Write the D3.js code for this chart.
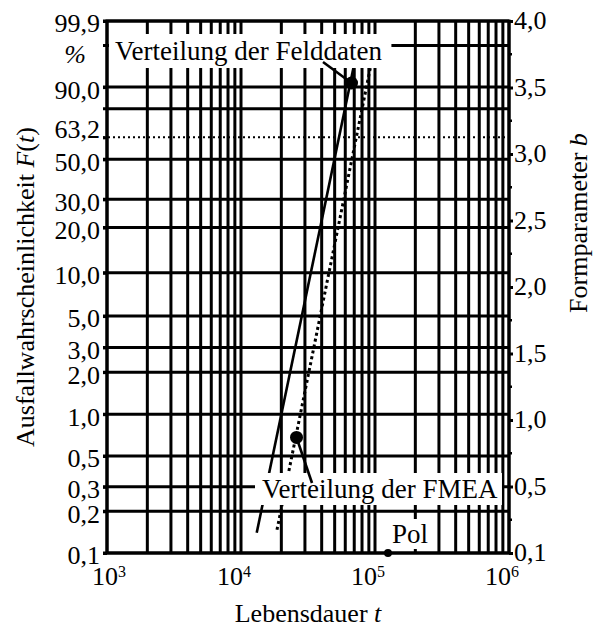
<!DOCTYPE html>
<html>
<head>
<meta charset="utf-8">
<script src="https://cdn.jsdelivr.net/npm/d3@7"></script>
<style>
  body { margin: 0; background: #fff; }
  svg text { font-family: "Times New Roman", "Liberation Serif", Tinos, "DejaVu Serif", serif !important; fill: #000; }
</style>
</head>
<body>
<div id="chart"></div>
<script>
// Weibull-Papier: Ausfallwahrscheinlichkeit ueber Lebensdauer
var percentGrid = [0.1, 0.2, 0.3, 0.5, 1, 2, 3, 5, 10, 20, 30, 50, 80, 90, 99, 99.9];
var percentLabels = [0.1, 0.2, 0.3, 0.5, 1, 2, 3, 5, 10, 20, 30, 50, 63.2, 90, 99.9];
var decades = [1e3, 1e4, 1e5, 1e6];
var bMajor = [0, 0.5, 1, 1.5, 2, 2.5, 3, 3.5, 4];
var bMajorLabels = ["0,1", "0,5", "1,0", "1,5", "2,0", "2,5", "3,0", "3,5", "4,0"];
var bMinor = [0.25, 0.75, 1.25, 1.75, 2.25, 2.75, 3.25, 3.75];

// Geraden [t, F%]
var felddaten = [[13100, 0.14], [74800, 99]];
var fmea = [[18560, 0.147], [99800, 99]];
var felddatenMarker = [66800, 91.5];
var fmeaMarker = [25960, 0.68];
var pol = [125000, 0.1];

var options = {
    outerWidth: 596, outerHeight: 627,
    margin: {left: 107, top: 21, right: 87, bottom: 74}
};
var width = options.outerWidth - options.margin.left - options.margin.right;
var height = options.outerHeight - options.margin.top - options.margin.bottom;
var serif = '"Times New Roman", "Liberation Serif", Tinos, "DejaVu Serif", serif';

var svg = d3.select("#chart")
    .append("svg")
    .attr("width", options.outerWidth)
    .attr("height", options.outerHeight)
    .attr("font-family", serif);

var g = svg.append("g")
    .attr("transform", "translate(" + options.margin.left + "," + options.margin.top + ")");

function wb(p) { return Math.log(-Math.log(1 - p / 100)); }

var x = d3.scaleLog().domain([1e3, 1e6]).range([0, width]);
var y = d3.scaleLinear().domain([wb(0.1), wb(99.9)]).range([height, 0]);
var yF = function (p) { return y(wb(p)); };
var yb = d3.scaleLinear().domain([0, 4]).range([height, 0]);

// vertical grid: 1..9 per decade
var vGrid = [];
decades.slice(0, 3).forEach(function (d) {
    for (var k = 1; k < 10; k++) vGrid.push(d * k);
});
vGrid.push(1e6);

var grid = g.append("g").attr("stroke", "#000").attr("stroke-width", 3);
grid.selectAll(".v").data(vGrid).enter().append("line")
    .attr("x1", d => x(d)).attr("x2", d => x(d))
    .attr("y1", 0).attr("y2", height);
grid.selectAll(".h").data(percentGrid).enter().append("line")
    .attr("x1", -4).attr("x2", width)
    .attr("y1", d => yF(d)).attr("y2", d => yF(d));

// 63,2 % dotted
g.append("line")
    .attr("x1", -4).attr("x2", width)
    .attr("y1", yF(63.2)).attr("y2", yF(63.2))
    .attr("stroke", "#000").attr("stroke-width", 2)
    .attr("stroke-dasharray", "2,3");

// left labels
var yAxis = d3.axisLeft(y)
    .tickValues(percentLabels.map(wb))
    .tickSize(4).tickPadding(3)
    .tickFormat((d, i) => d3.format(".1f")(percentLabels[i]).replace(".", ","));
var ya = g.append("g").call(yAxis).attr("font-family", serif);
ya.select(".domain").remove();
ya.selectAll("line").attr("stroke-width", 3);
ya.selectAll("text").attr("font-size", 26)
    .attr("dy", (d, i) => percentLabels[i] === 63.2 ? "0.02em" : "0.42em");

g.append("text").attr("x", -32).attr("y", 42).attr("text-anchor", "middle")
    .attr("font-size", 26).attr("font-style", "italic").text("%");

// right b scale
var bAxis = d3.axisRight(yb)
    .tickValues(bMajor).tickSize(4).tickPadding(1)
    .tickFormat((d, i) => bMajorLabels[i]);
var ba = g.append("g").attr("transform", "translate(" + width + ",0)").call(bAxis)
    .attr("font-family", serif);
ba.select(".domain").remove();
ba.selectAll("line").attr("stroke-width", 3);
ba.selectAll("text").attr("font-size", 26).attr("dy", "0.3em");
ba.selectAll(".minor").data(bMinor).enter().append("line")
    .attr("x1", 0).attr("x2", 3)
    .attr("y1", d => yb(d)).attr("y2", d => yb(d))
    .attr("stroke", "#000").attr("stroke-width", 2.5);

// bottom decades
var xa = g.append("g").attr("transform", "translate(0," + height + ")");
var xt = xa.selectAll("text").data(decades).enter().append("text")
    .attr("x", (d, i) => x(d) + (i === 0 ? 2 : -7)).attr("y", 32)
    .attr("text-anchor", "middle").attr("font-size", 26);
xt.append("tspan").text("10");
xt.append("tspan").attr("dy", -8).attr("font-size", 16).text(d => Math.round(Math.log10(d)));

// frame
g.append("rect").attr("width", width).attr("height", height)
    .attr("fill", "none").attr("stroke", "#000").attr("stroke-width", 3);

// distribution lines
var line = d3.line().x(d => x(d[0])).y(d => yF(d[1]));
g.append("path").attr("d", line(felddaten))
    .attr("fill", "none").attr("stroke", "#000").attr("stroke-width", 2.6);
g.append("path").attr("d", line(fmea))
    .attr("fill", "none").attr("stroke", "#000").attr("stroke-width", 3)
    .attr("stroke-dasharray", "3,3");

g.selectAll(".marker").data([felddatenMarker, fmeaMarker]).enter().append("circle")
    .attr("cx", d => x(d[0])).attr("cy", d => yF(d[1])).attr("r", 6.5).attr("fill", "#000");
g.append("circle").attr("cx", x(pol[0])).attr("cy", yF(pol[1])).attr("r", 4).attr("fill", "#000");

// labels with white boxes
function boxLabel(txt, tx, ty, padX, padY) {
    var lg = g.append("g");
    var t = lg.append("text").attr("x", tx).attr("y", ty).attr("font-size", 27).text(txt);
    var bb = t.node().getBBox();
    lg.insert("rect", "text")
        .attr("x", bb.x - padX[0]).attr("y", bb.y - padY)
        .attr("width", bb.width + padX[0] + padX[1]).attr("height", bb.height + 2 * padY)
        .attr("fill", "#fff");
    return lg;
}
boxLabel("Verteilung der Felddaten", 8, 39, [6, 9], 2);
boxLabel("Verteilung der FMEA", 155, 477, [7, 4], 1);
boxLabel("Pol", 285, 522, [2, 2], 0);

// pointers
g.append("line").attr("x1", 216).attr("y1", 41)
    .attr("x2", x(felddatenMarker[0])).attr("y2", yF(felddatenMarker[1]))
    .attr("stroke", "#000").attr("stroke-width", 2.6);
g.append("line").attr("x1", 205).attr("y1", 462)
    .attr("x2", x(fmeaMarker[0])).attr("y2", yF(fmeaMarker[1]))
    .attr("stroke", "#000").attr("stroke-width", 2.6);

// axis titles
var lt = svg.append("text").attr("transform", "translate(34,287) rotate(-90)")
    .attr("text-anchor", "middle").attr("font-size", 26);
lt.append("tspan").text("Ausfallwahrscheinlichkeit ");
lt.append("tspan").attr("font-style", "italic").text("F");
lt.append("tspan").text("(");
lt.append("tspan").attr("font-style", "italic").text("t");
lt.append("tspan").text(")");

var rt = svg.append("text").attr("transform", "translate(587,223) rotate(-90)")
    .attr("text-anchor", "middle").attr("font-size", 26);
rt.append("tspan").text("Formparameter ");
rt.append("tspan").attr("font-style", "italic").text("b");

var bt = svg.append("text").attr("x", 308).attr("y", 622)
    .attr("text-anchor", "middle").attr("font-size", 26);
bt.append("tspan").text("Lebensdauer ");
bt.append("tspan").attr("font-style", "italic").text("t");
</script>
</body>
</html>
